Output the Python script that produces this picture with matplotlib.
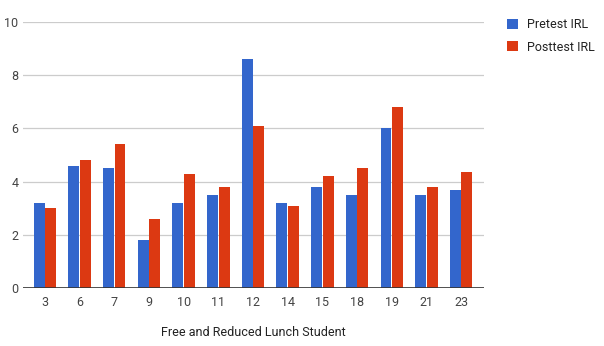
import matplotlib
matplotlib.use("Agg")
import matplotlib.pyplot as plt
import numpy as np

# data
students = ['3', '6', '7', '9', '10', '11', '12', '14', '15', '18', '19', '21', '23']
pretest = [3.2, 4.6, 4.5, 1.8, 3.2, 3.5, 8.6, 3.2, 3.8, 3.5, 6.0, 3.5, 3.7]
posttest = [3.0, 4.8, 5.4, 2.6, 4.3, 3.8, 6.1, 3.1, 4.2, 4.5, 6.8, 3.8, 4.35]

plt.rcParams['font.family'] = ['Roboto', 'DejaVu Sans']

fig = plt.figure(figsize=(6.04, 3.46), dpi=100)
ax = fig.add_axes([0.0376, 0.1676, 0.7637, 0.7688])

x = np.arange(len(students))
width = 0.315
offset = 0.165
b1 = ax.bar(x - offset, pretest, width, color='#3366CC', zorder=3, label='Pretest IRL')
b2 = ax.bar(x + offset, posttest, width, color='#DC3912', zorder=3, label='Posttest IRL')

ax.set_xlim(-0.64, len(students) - 1 + 0.66)
ax.set_ylim(0, 10)
ax.set_yticks([0, 2, 4, 6, 8, 10])
ax.grid(axis='y', color='#cccccc', linewidth=0.9, zorder=0)
ax.axhline(0, color='#333333', linewidth=1.2, zorder=4)

ax.set_xticks(x)
ax.set_xticklabels(students)
ax.tick_params(axis='both', length=0, labelsize=9, colors='#444444')
ax.tick_params(axis='x', pad=6)
ax.tick_params(axis='y', pad=3)
for s in ax.spines.values():
    s.set_visible(False)

ax.set_xlabel('Free and Reduced Lunch Student', fontsize=9, color='#222222', labelpad=12)

fig.legend(handles=[b1, b2], loc='upper left', bbox_to_anchor=(0.82, 0.98),
           frameon=False, fontsize=9, handlelength=0.9, handleheight=0.9,
           handletextpad=0.7, labelspacing=0.75, labelcolor='#222222')

fig.savefig('out.png', dpi=100)
